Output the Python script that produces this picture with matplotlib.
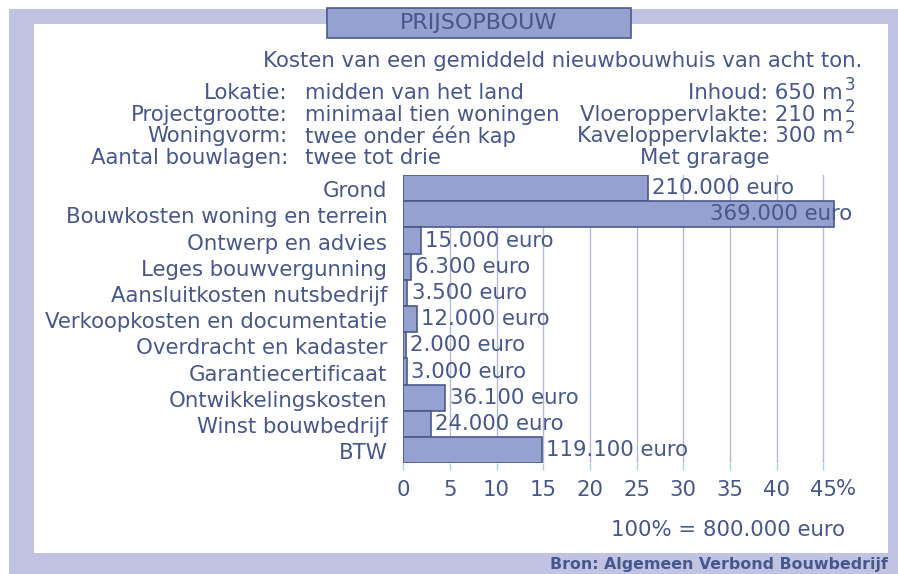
import matplotlib
matplotlib.use("Agg")
import matplotlib.pyplot as plt
from matplotlib.patches import Rectangle
from matplotlib.transforms import ScaledTranslation

W, H = 898, 574
categories = ["Grond", "Bouwkosten woning en terrein", "Ontwerp en advies",
              "Leges bouwvergunning", "Aansluitkosten nutsbedrijf",
              "Verkoopkosten en documentatie", "Overdracht en kadaster",
              "Garantiecertificaat", "Ontwikkelingskosten", "Winst bouwbedrijf", "BTW"]
values = [210000, 369000, 15000, 6300, 3500, 12000, 2000, 3000, 36100, 24000, 119100]
total = 800000
xticks = [0, 5, 10, 15, 20, 25, 30, 35, 40, 45]
title = "PRIJSOPBOUW"
subtitle = "Kosten van een gemiddeld nieuwbouwhuis van acht ton."
info_left = [("Lokatie:", "midden van het land"),
             ("Projectgrootte:", "minimaal tien woningen"),
             ("Woningvorm:", "twee onder één kap"),
             ("Aantal bouwlagen:", "twee tot drie")]
info_right = [("Inhoud: 650 m", "3"), ("Vloeroppervlakte: 210 m", "2"),
              ("Kaveloppervlakte: 300 m", "2"), ("Met grarage", "")]
footnote = "100% = 800.000 euro"
source = "Bron: Algemeen Verbond Bouwbedrijf"

TXT = "#46578b"
BAR = "#95a1d0"
EDGE = "#4a5a8a"
LAV = "#c1c3e3"
GRID = "#b6b9d6"

fig = plt.figure(figsize=(W / 100, H / 100), dpi=100)
fig.patch.set_facecolor("white")

def fx(x):
    return x / W

def fy(y):
    return 1 - y / H

def rect(x0, y0, x1, y1, **kw):
    fig.patches.append(Rectangle((fx(x0), fy(y1)), fx(x1) - fx(x0), fy(y0) - fy(y1),
                                 transform=fig.transFigure, figure=fig, **kw))

rect(9, 9, 898, 574, facecolor=LAV, edgecolor="none", zorder=-2)
rect(34, 24, 888, 553, facecolor="white", edgecolor="none", zorder=-1)
rect(327, 8, 631, 38, facecolor=BAR, edgecolor=EDGE, linewidth=1.2, zorder=1)
fig.text(fx(479), fy(23), title, ha="center", va="center", fontsize=16, color=TXT)

FS = 15.3
fig.text(fx(862), fy(61), subtitle, ha="right", va="center", fontsize=FS, color=TXT)
for i, (k, v) in enumerate(info_left):
    y = 93 + i * 21.7
    fig.text(fx(288), fy(y), k, ha="right", va="center", fontsize=FS, color=TXT)
    fig.text(fx(305), fy(y), v, ha="left", va="center", fontsize=FS, color=TXT)
for i, (k, sup) in enumerate(info_right):
    y = 93 + i * 21.7
    if sup:
        fig.text(fx(843), fy(y), k, ha="right", va="center", fontsize=FS, color=TXT)
        fig.text(fx(845), fy(y - 8), sup, ha="left", va="center", fontsize=12, color=TXT)
    else:
        fig.text(fx(640), fy(y), k, ha="left", va="center", fontsize=FS, color=TXT)

# axes
x0px, unit = 403.3, 9.333
xmax = 48
ax = fig.add_axes([fx(x0px), fy(463.3), (xmax * unit) / W, (463.3 - 175) / H])
ax.set_zorder(5)
ax.set_facecolor("none")
pct = [v / total * 100 for v in values]
n = len(categories)
ypos = list(range(n))
ax.barh(ypos, pct, height=1.0, color=BAR, edgecolor=EDGE, linewidth=1.2, zorder=2)
ax.set_ylim(n - 0.5, -0.5)
ax.set_xlim(0, xmax)
for t in xticks:
    ax.axvline(t, color=GRID, linewidth=1.0, zorder=1)
for s in ax.spines.values():
    s.set_visible(False)
ax.set_yticks(ypos)
ax.set_yticklabels(categories, fontsize=FS, color=TXT)
ax.tick_params(axis="y", length=0, pad=11.5)
down = ScaledTranslation(0, -1.0 / 100, fig.dpi_scale_trans)
for lab in ax.get_yticklabels():
    lab.set_transform(lab.get_transform() + down)
ax.set_xticks(xticks)
ax.set_xticklabels([str(t) for t in xticks], fontsize=FS, color=TXT)
ax.tick_params(axis="x", length=5, width=1, color="#9fd6e8", pad=7)
ax.text(xticks[-1] + 1.4, -0.089, "%", transform=ax.get_xaxis_transform(),
        ha="left", va="center", fontsize=FS, color=TXT)

def fmt(v):
    return f"{v:,}".replace(",", ".") + " euro"

for i, (p, v) in enumerate(zip(pct, values)):
    if p > 40:
        ax.text(48.1, i, fmt(v), ha="right", va="center", fontsize=FS, color=TXT, zorder=3)
    else:
        ax.text(p + 0.45, i, fmt(v), ha="left", va="center", fontsize=FS, color=TXT, zorder=3)

fig.text(fx(845), fy(530), footnote, ha="right", va="center", fontsize=FS, color=TXT)
fig.text(fx(888), fy(565), source, ha="right", va="center", fontsize=11.4,
         fontweight="bold", color=TXT)

fig.savefig("out.png", dpi=100)
